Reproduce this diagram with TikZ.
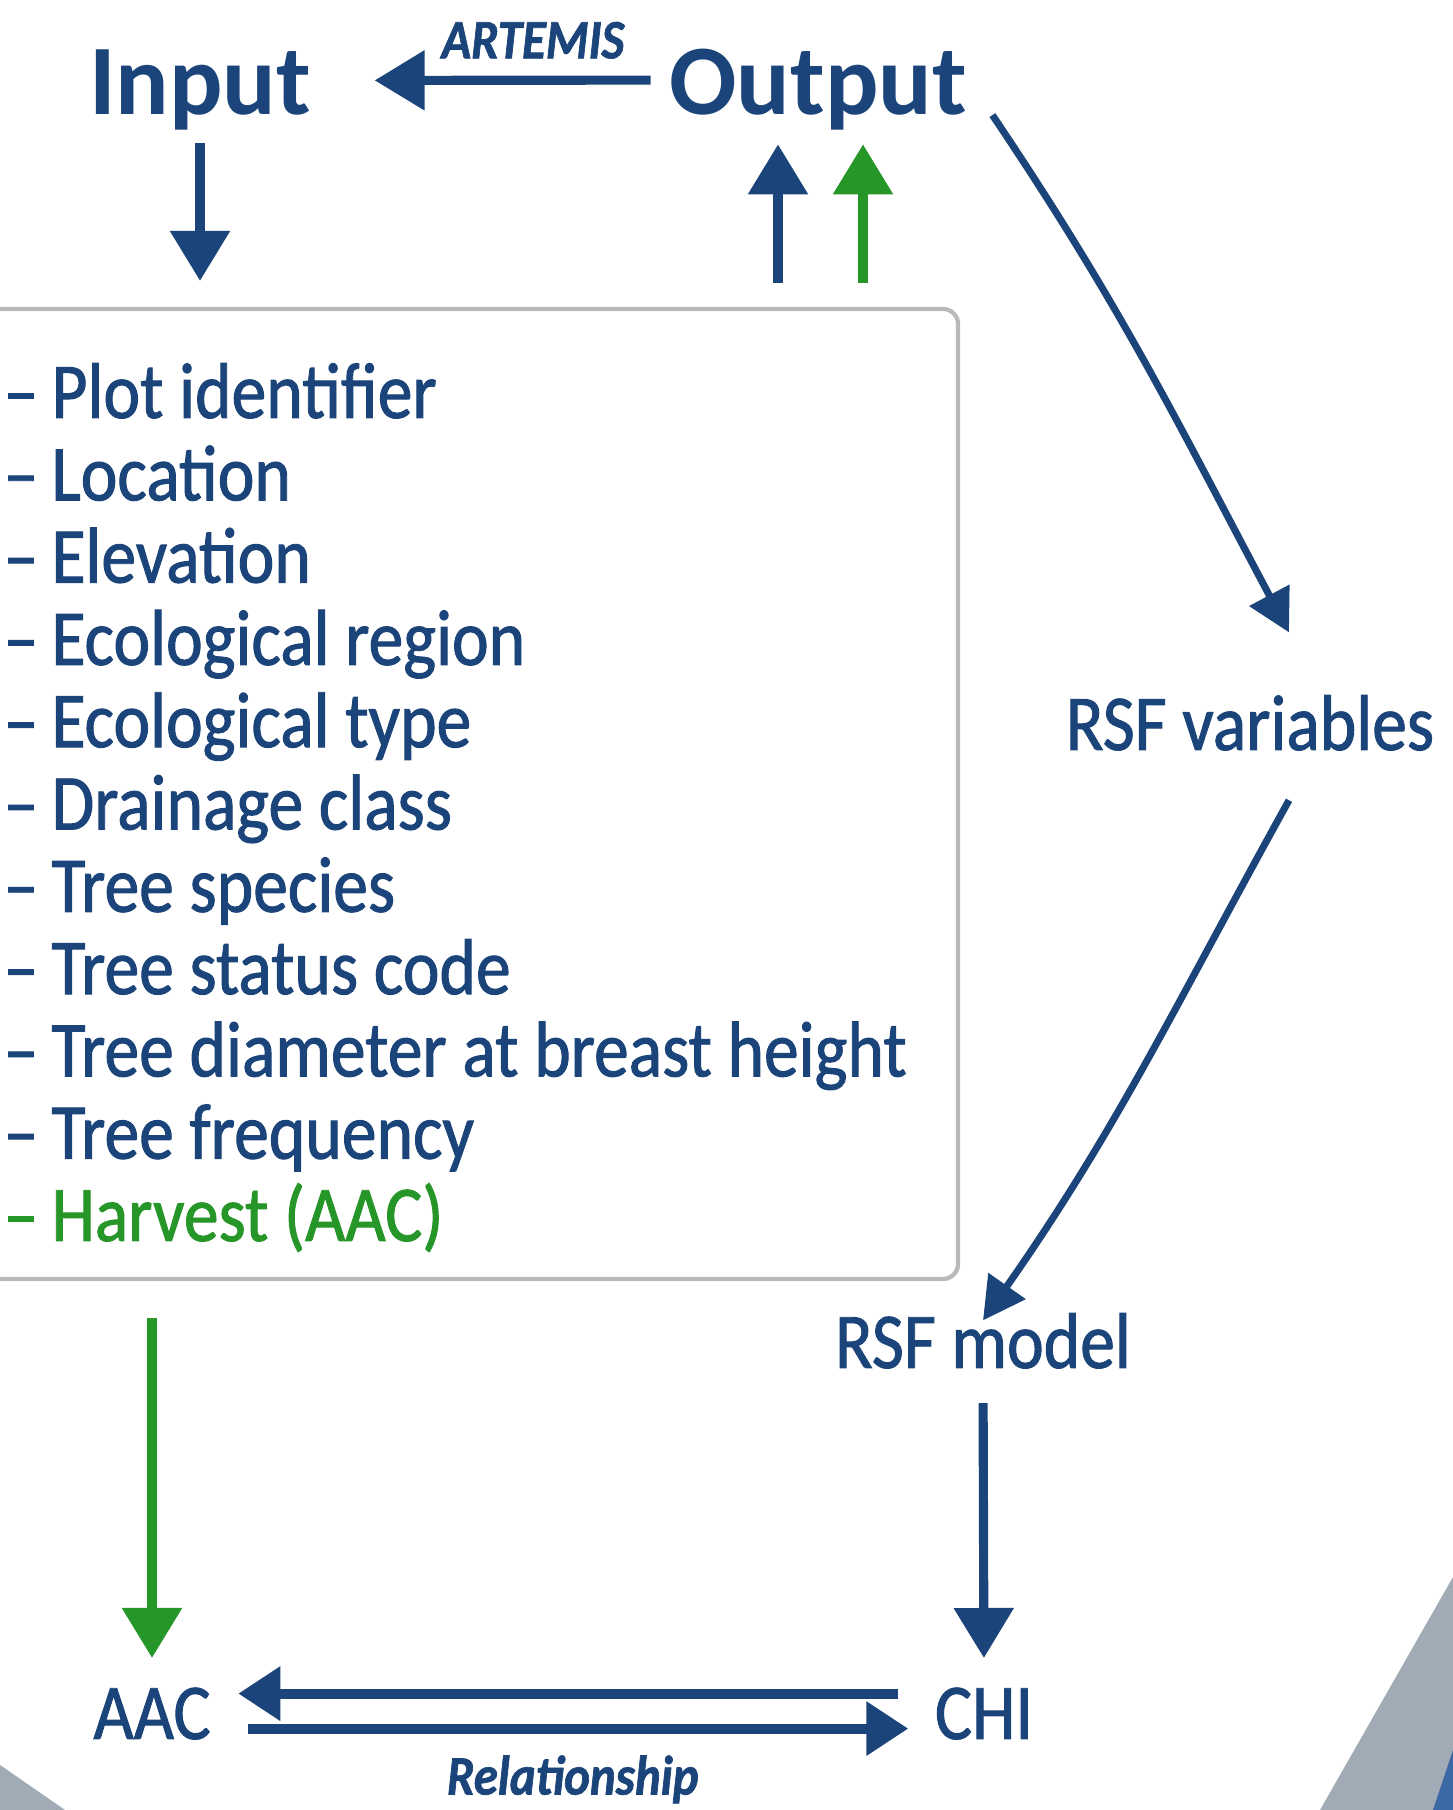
\documentclass[tikz,border=0pt]{standalone}
\usepackage{fontspec}
\setmainfont{Carlito}
\newfontfamily\listfont{Carlito}[FakeStretch=0.88, FakeBold=1.2]
\usepackage{tikz}
\usetikzlibrary{arrows.meta, positioning, calc}

\definecolor{dkblue}{RGB}{27,68,122}
\definecolor{leafgreen}{RGB}{38,150,40}
\definecolor{cornergray}{RGB}{160,171,182}
\definecolor{cornerblue}{RGB}{60,105,165}

\begin{document}
\begin{tikzpicture}[
    head/.style={inner sep=0, anchor=base, text=dkblue, font=\fontsize{28.4pt}{32pt}\selectfont\bfseries},
    listitem/.style={inner sep=0, anchor=base west, text=dkblue, font=\listfont\fontsize{22.5pt}{26pt}\selectfont},
    smalltext/.style={inner sep=0, text=dkblue, font=\listfont\fontsize{15.8pt}{18pt}\selectfont\bfseries\itshape},
    databox/.style={draw=gray!55, line width=1.2pt, rounded corners=0.15cm, fill=white},
    arr/.style={draw=dkblue, line width=2.6pt, -{Triangle[length=5mm, width=5.8mm]}},
    garr/.style={arr, draw=leafgreen},
    carr/.style={draw=dkblue, line width=2pt, -{Triangle[length=4.2mm, width=4.4mm]}},
    relarr/.style={draw=dkblue, line width=2.8pt, -{Triangle[length=4.2mm, width=5.2mm]}}
]
    \useasboundingbox (0,0) rectangle (14.53,18.10);
    \fill[white] (0,0) rectangle (14.53,18.10);

    % corner pieces
    \fill[cornergray] (0,0.45) -- (0.65,0) -- (0,0) -- cycle;
    \fill[cornergray] (14.53,2.33) -- (13.20,0) -- (14.53,0) -- cycle;
    \fill[cornerblue] (14.53,0.60) -- (14.33,0) -- (14.53,0) -- cycle;

    % data box
    \node[databox, minimum width=9.88cm, minimum height=9.70cm] (box) at (4.64,10.16) {};

    \node[head] (Input) at (2.00,16.95) {Input};
    \node[head] (Output) at (8.18,16.95) {Output};

    \node[listitem] (plot) at (0.03,13.92) {–\,Plot identifier};
    \node[listitem] (loc) at (0.03,13.097) {–\,Location};
    \node[listitem] (elev) at (0.03,12.274) {–\,Elevation};
    \node[listitem] (ecoreg) at (0.03,11.451) {–\,Ecological region};
    \node[listitem] (ecotype) at (0.03,10.628) {–\,Ecological type};
    \node[listitem] (drain) at (0.03,9.805) {–\,Drainage class};
    \node[listitem] (species) at (0.03,8.982) {–\,Tree species};
    \node[listitem] (status) at (0.03,8.159) {–\,Tree status code};
    \node[listitem] (dbh) at (0.03,7.336) {–\,Tree diameter at breast height};
    \node[listitem] (freq) at (0.03,6.513) {–\,Tree frequency};
    \node[listitem, text=leafgreen] (harvest) at (0.03,5.69) {–\,Harvest (AAC)};

    \node[listitem, anchor=base] (RSFvar) at (12.50,10.60) {RSF variables};
    \node[listitem, anchor=base] (RSFmodel) at (9.83,4.42) {RSF model};
    \node[listitem, anchor=base] (AAC) at (1.52,0.71) {AAC};
    \node[listitem, anchor=base] (CHI) at (9.84,0.71) {CHI};

    \coordinate (outL) at ([xshift=-4mm]Output.south);
    \coordinate (outR) at ([xshift=4.5mm]Output.south);

    \draw[arr, shorten <=1.8mm, shorten >=6.3mm] ([yshift=1mm]Output.west)
        -- node[smalltext, pos=0.38, above=1.7mm] {ARTEMIS} ([yshift=1mm]Input.east);
    \draw[arr, shorten <=1.2mm, shorten >=2.6mm] (Input.south) -- (Input.south |- box.north);
    \draw[arr, shorten <=2.4mm, shorten >=1.3mm] (outL |- box.north) -- (outL);
    \draw[garr, shorten <=2.4mm, shorten >=1.3mm] (outR |- box.north) -- (outR);

    \draw[carr] ([shift={(0.25,-0.25)}]Output.east) to[out=-56, in=118] ([shift={(0.39,0.62)}]RSFvar.north);
    \draw[carr] ([shift={(0.39,-0.49)}]RSFvar.south) to[out=-119, in=55] ([yshift=-0.8mm]RSFmodel.north);

    \draw[garr, shorten <=3.7mm, shorten >=2.9mm] (box.south -| AAC.north) -- (AAC.north);
    \draw[arr, shorten <=3.4mm, shorten >=2.9mm] (RSFmodel.south) -- (CHI.north);

    \draw[relarr, shorten <=3.6mm, shorten >=2.7mm] ([yshift=2mm]CHI.west) -- ([yshift=2mm]AAC.east);
    \draw[relarr, shorten <=3.7mm, shorten >=2.6mm] ([yshift=-1.5mm]AAC.east)
        -- node[smalltext, midway, below=2.2mm] {Relationship} ([yshift=-1.5mm]CHI.west);
\end{tikzpicture}
\end{document}
